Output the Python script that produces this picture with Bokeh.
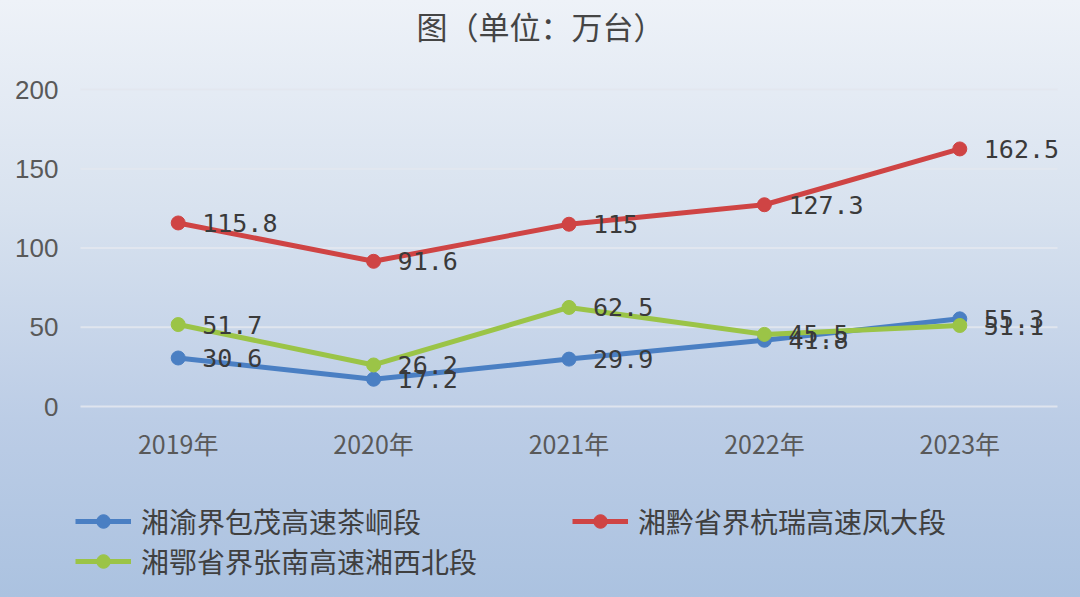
from bokeh.plotting import figure
from bokeh.models import (ColumnDataSource, FixedTicker, Range1d,
                          Legend, LegendItem, Label, LabelSet)
from bokeh.core.properties import value
from bokeh.embed import file_html
from bokeh.resources import INLINE

years = ["2019年", "2020年", "2021年", "2022年", "2023年"]
series_names = ["湘渝界包茂高速茶峒段", "湘黔省界杭瑞高速凤大段", "湘鄂省界张南高速湘西北段"]
blue_vals = [30.6, 17.2, 29.9, 41.8, 55.3]
red_vals = [115.8, 91.6, 115, 127.3, 162.5]
green_vals = [51.7, 26.2, 62.5, 45.5, 51.1]
colors = ["#4a7fc3", "#cf4444", "#9bc447"]
y_ticks = [0, 50, 100, 150, 200]
title_text = "图（单位：万台）"

W, H = 1080, 597
# plot area in the reference: x 80..1057 px, y(200)=89 px, y(0)=406 px
cat_w = (1057 - 80) / 5.0
px_per_unit = (406 - 89) / 200.0
xpos = list(range(len(years)))
x_start = -0.5 - 80 / cat_w
x_end = len(years) - 0.5 + (W - 1057) / cat_w
y_end = 200 + 89 / px_per_unit
y_start = -(H - 406) / px_per_unit

p = figure(width=W, height=H, x_range=Range1d(x_start, x_end), y_range=Range1d(y_start, y_end),
           output_backend="svg", toolbar_location=None,
           min_border_left=0, min_border_right=0, min_border_top=0, min_border_bottom=0)
p.styles = {"background": "linear-gradient(180deg, #eef2f8 0%, #d8e2ef 35%, #bccde6 70%, #abc2e0 100%)"}
p.border_fill_alpha = 0
p.background_fill_alpha = 0
p.outline_line_color = None
p.xgrid.visible = False
p.ygrid.visible = False

# horizontal gridlines across the plot area
p.segment(x0=[-0.5] * len(y_ticks), x1=[len(years) - 0.5] * len(y_ticks), y0=y_ticks, y1=y_ticks,
          line_color="#e2e7ee", line_width=2, line_alpha=0.9)

xa = p.xaxis[0]
xa.fixed_location = 0
xa.ticker = FixedTicker(ticks=xpos)
xa.major_label_overrides = {i: years[i] for i in xpos}
xa.axis_line_color = None
xa.major_tick_line_color = None
xa.minor_tick_line_color = None
xa.major_label_text_font = "Noto Sans CJK SC"
xa.major_label_text_font_size = "25px"
xa.major_label_text_color = "#595959"
xa.major_label_standoff = 12

ya = p.yaxis[0]
ya.fixed_location = -0.5
ya.ticker = FixedTicker(ticks=y_ticks)
ya.axis_line_color = None
ya.major_tick_line_color = None
ya.minor_tick_line_color = None
ya.major_label_text_font = "Liberation Sans"
ya.major_label_text_font_size = "26px"
ya.major_label_text_color = "#595959"
ya.major_label_standoff = 16

renderers = []
for vals, c in zip([blue_vals, red_vals, green_vals], colors):
    src = ColumnDataSource(dict(x=xpos, y=vals, lab=[("%g" % v) for v in vals]))
    ln = p.line("x", "y", source=src, line_color=c, line_width=5)
    sc = p.scatter("x", "y", source=src, size=14, fill_color=c, line_color=c)
    renderers.append((ln, sc))
    p.add_layout(LabelSet(x="x", y="y", text="lab", source=src, x_offset=24, y_offset=0,
                          text_font=value("DejaVu Sans Mono"), text_font_size="25px",
                          text_color="#3a3a3a", text_baseline="middle", text_align="left"))

leg = Legend(items=[LegendItem(label=series_names[i], renderers=list(renderers[i])) for i in range(3)],
             orientation="horizontal", ncols=2, location=(75, 16))
leg.background_fill_alpha = 0
leg.border_line_color = None
leg.padding = 0
leg.margin = 0
leg.spacing = 0
leg.glyph_width = 56
leg.glyph_height = 34
leg.label_standoff = 10
leg.label_width = 431
leg.label_height = 33
leg.label_text_font = "Noto Sans CJK SC"
leg.label_text_font_size = "28px"
leg.label_text_color = "#404040"
p.add_layout(leg)

title_x = (540 - 80) / cat_w - 0.5
title_y = 200 + (89 - 25) / px_per_unit
p.add_layout(Label(x=title_x, y=title_y, text=title_text, text_align="center", text_baseline="middle",
                   text_font="Noto Sans CJK SC", text_font_size="31px", text_color="#454545"))

open("out.html", "w").write(file_html(p, INLINE))
